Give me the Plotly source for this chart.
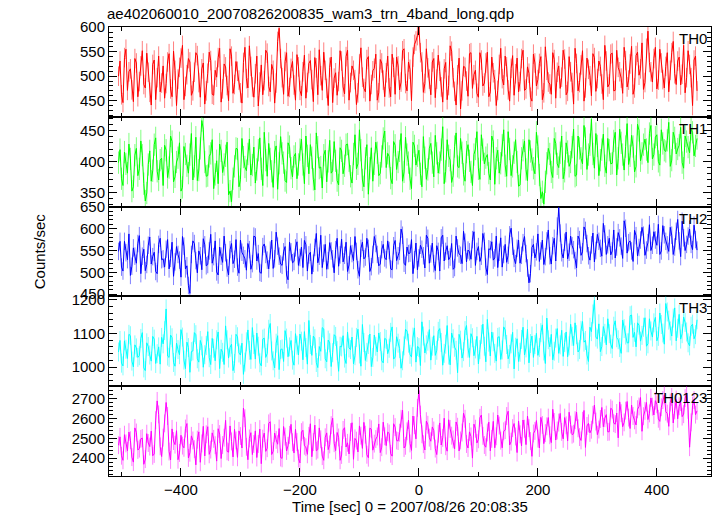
import plotly.graph_objects as go
from plotly.subplots import make_subplots

# ---- data: 2.5 s bins read/ ----
# "_a" lists hold bins starting at -505 s (5 s apart), "_b" lists the bins 2.5 s later.
time_start = -505
bin_width = 2.5

th0_a = [500, 462, 538, 471, 515, 448, 527, 489, 552, 476, 508, 441, 533, 497, 468,
         521, 485, 546, 458, 512, 494, 537, 452, 503, 529, 470, 548, 487, 515, 443,
         506, 532, 461, 498, 557, 474, 519, 450, 541, 483, 510, 466, 528, 495, 562,
         478, 505, 439, 523, 491, 547, 468, 512, 486, 598, 497, 530, 459, 516, 482,
         544, 471, 509, 455, 526, 493, 538, 462, 501, 549, 475, 518, 446, 507, 489,
         531, 464, 553, 487, 512, 442, 525, 498, 468, 540, 483, 516, 451, 534, 492,
         507, 476, 545, 463, 521, 488, 556, 470, 514, 539, 572, 601, 529, 485, 517,
         462, 536, 494, 510, 447, 528, 481, 551, 469, 503, 433, 520, 490, 546, 475,
         512, 457, 533, 486, 549, 468, 507, 440, 524, 495, 541, 472, 516, 461, 537,
         489, 553, 474, 506, 449, 527, 493, 540, 466, 512, 484, 548, 455, 521, 498,
         535, 469, 509, 443, 526, 487, 552, 476, 514, 460, 538, 495, 520, 452, 531,
         484, 547, 471, 518, 496, 559, 478, 525, 463, 542, 502, 568, 487, 592, 509,
         536, 474, 555, 493, 520, 468, 548, 505, 531, 482, 563, 497, 524, 440, 541]
th0_b = [531, 446, 555, 509, 472, 536, 458, 521, 483, 547, 467, 524, 452, 541, 486,
         455, 529, 474, 551, 440, 518, 563, 479, 536, 461, 508, 542, 457, 527, 470,
         549, 463, 512, 538, 447, 525, 481, 556, 465, 530, 492, 445, 559, 476, 520,
         457, 541, 488, 462, 553, 479, 524, 445, 571, 536, 463, 548, 477, 530, 451,
         519, 460, 543, 487, 532, 448, 517, 554, 471, 512, 440, 539, 496, 461, 552,
         478, 540, 451, 521, 493, 466, 558, 475, 534, 449, 511, 545, 466, 527, 458,
         541, 458, 518, 539, 472, 552, 485, 529, 450, 565, 583, 548, 467, 556, 494,
         529, 456, 543, 478, 515, 452, 562, 497, 441, 537, 470, 518, 459, 548, 503,
         465, 548, 480, 527, 458, 539, 493, 471, 557, 482, 519, 449, 542, 505, 468,
         536, 471, 519, 457, 545, 480, 526, 452, 560, 488, 463, 534, 508, 475, 553,
         462, 540, 487, 557, 470, 523, 449, 537, 501, 546, 469, 531, 484, 563, 478,
         545, 470, 553, 509, 465, 532, 492, 561, 476, 549, 515, 473, 557, 528, 488,
         559, 492, 527, 476, 548, 512, 571, 483, 539, 504, 466, 552, 497, 533, 470]

th1_a = [398, 372, 415, 381, 404, 359, 421, 388, 410, 336, 395, 368, 427, 384, 402,
         361, 418, 390, 432, 375, 406, 352, 424, 393, 411, 370, 439, 386, 466, 399,
         377, 413, 356, 401, 428, 382, 409, 346, 335, 392, 420, 371, 407, 385, 436,
         394, 365, 418, 388, 447, 376, 404, 358, 425, 397, 413, 369, 430, 389, 408,
         372, 419, 395, 441, 380, 406, 354, 423, 391, 410, 367, 434, 385, 401, 362,
         417, 393, 428, 376, 412, 388, 451, 370, 405, 347, 422, 396, 414, 381, 437,
         390, 408, 364, 426, 399, 445, 383, 411, 372, 431, 394, 418, 359, 406, 387,
         429, 375, 413, 398, 456, 384, 409, 366, 424, 392, 437, 379, 415, 401, 361,
         420, 388, 443, 396, 411, 370, 432, 405, 381, 426, 393, 448, 377, 414, 399,
         362, 418, 387, 435, 403, 380, 424, 340, 331, 397, 412, 374, 429, 390, 441,
         384, 416, 399, 452, 378, 421, 396, 437, 411, 468, 389, 425, 402, 444, 381,
         418, 397, 447, 405, 430, 386, 461, 409, 424, 392, 450, 413, 436, 398, 458,
         411, 443, 394, 429, 416, 463, 402, 438, 420, 455, 389, 432, 414, 447, 425]
th1_b = [419, 361, 396, 428, 352, 410, 377, 433, 364, 349, 417, 385, 438, 370, 405,
         426, 374, 441, 367, 399, 430, 358, 412, 381, 445, 392, 369, 421, 452, 376,
         408, 435, 379, 364, 417, 395, 431, 352, 372, 421, 359, 437, 391, 412, 378,
         423, 387, 438, 361, 402, 429, 384, 415, 355, 440, 398, 366, 424, 375, 413,
         395, 436, 364, 409, 427, 371, 446, 389, 357, 418, 400, 381, 432, 369, 422,
         380, 427, 401, 365, 443, 396, 418, 359, 427, 389, 368, 431, 377, 408, 449,
         413, 373, 432, 387, 417, 368, 439, 398, 356, 425, 409, 380, 440, 371, 421,
         398, 442, 381, 419, 364, 435, 402, 377, 446, 390, 414, 368, 427, 383, 411,
         448, 371, 419, 406, 381, 441, 363, 418, 397, 451, 376, 420, 392, 435, 360,
         405, 433, 369, 416, 389, 447, 378, 351, 367, 421, 383, 437, 396, 414, 372,
         430, 392, 423, 376, 441, 405, 458, 387, 427, 412, 445, 377, 419, 393, 437,
         396, 433, 378, 452, 411, 424, 395, 442, 383, 460, 401, 427, 419, 445, 404,
         439, 400, 451, 418, 434, 392, 447, 412, 426, 398, 441, 423, 452, 409, 437]

th2_a = [548, 512, 571, 529, 493, 556, 521, 584, 537, 504, 562, 519, 546, 497, 578,
         531, 553, 508, 569, 524, 541, 489, 560, 515, 452, 572, 527, 549, 506, 563,
         518, 587, 536, 501, 558, 523, 545, 494, 566, 530, 512, 574, 539, 505, 552,
         520, 581, 543, 498, 565, 528, 551, 509, 592, 537, 516, 559, 483, 547, 525,
         570, 534, 511, 563, 540, 496, 557, 522, 585, 544, 507, 568, 531, 552, 514,
         576, 539, 502, 561, 527, 548, 491, 569, 535, 555, 513, 582, 541, 519, 564,
         529, 550, 506, 573, 538, 599, 521, 558, 544, 497, 567, 533, 553, 510, 578,
         542, 520, 561, 503, 585, 548, 529, 566, 511, 556, 539, 594, 524, 547, 575,
         516, 559, 537, 571, 495, 552, 528, 583, 546, 512, 564, 539, 601, 532, 555,
         521, 568, 543, 476, 557, 533, 588, 549, 518, 572, 538, 561, 526, 648, 545,
         569, 531, 583, 552, 510, 575, 547, 596, 538, 563, 524, 587, 555, 612, 541,
         578, 549, 533, 591, 560, 618, 544, 572, 525, 584, 557, 603, 539, 568, 550,
         593, 562, 541, 607, 571, 548, 585, 558, 621, 536, 579, 564, 599, 552, 575]
th2_b = [571, 503, 545, 588, 514, 537, 566, 497, 553, 518, 581, 536, 502, 564, 529,
         512, 575, 532, 491, 559, 528, 582, 508, 470, 541, 566, 499, 538, 577, 515,
         549, 521, 572, 494, 537, 583, 510, 552, 520, 575, 498, 546, 531, 566, 507,
         583, 526, 500, 559, 541, 508, 574, 531, 560, 519, 547, 494, 569, 522, 556,
         516, 558, 573, 503, 546, 521, 589, 537, 511, 564, 527, 549, 499, 578, 540,
         524, 569, 517, 543, 582, 506, 555, 531, 578, 502, 541, 566, 515, 552, 533,
         572, 508, 561, 527, 548, 585, 516, 543, 575, 529, 506, 562, 538, 585, 521,
         567, 504, 548, 579, 526, 561, 535, 507, 583, 542, 520, 569, 551, 530, 593,
         548, 525, 589, 512, 554, 570, 533, 511, 579, 541, 523, 586, 560, 520, 574,
         539, 582, 510, 497, 564, 547, 525, 574, 536, 597, 519, 578, 606, 590, 533,
         592, 546, 561, 527, 583, 539, 604, 566, 528, 590, 550, 571, 537, 588, 563,
         540, 597, 558, 579, 532, 601, 568, 549, 596, 538, 574, 585, 551, 609, 562,
         574, 610, 549, 586, 563, 603, 541, 594, 572, 617, 550, 583, 564, 608, 551]

th3_a = [1045, 1012, 1078, 1026, 1093, 1001, 1057, 1034, 1102, 990, 1061, 1018, 1083, 1040, 1009,
         1069, 1172, 1029, 1087, 1003, 1052, 1111, 1021, 1074, 985, 1048, 1096, 1015, 1063, 1037,
         1105, 1008, 1056, 1081, 996, 1044, 1122, 1027, 1068, 1011, 1090, 1036, 979, 1075, 1050,
         1117, 1024, 1062, 1004, 1086, 1041, 1129, 1019, 1071, 993, 1054, 1108, 1031, 1079, 1006,
         1065, 1098, 1022, 1058, 1138, 1035, 1084, 999, 1047, 1113, 1016, 1072, 1043, 1091, 988,
         1060, 1027, 1104, 1052, 1010, 1088, 1039, 1126, 1020, 1067, 1002, 1095, 1045, 1076, 1013,
         1082, 1056, 1119, 1030, 1071, 997, 1063, 1107, 1038, 1089, 1015, 1058, 1134, 1042, 1077,
         1021, 1093, 1050, 1114, 1006, 1068, 1036, 1101, 1059, 984, 1080, 1046, 1123, 1029, 1087,
         1054, 1010, 1097, 1062, 1141, 1033, 1075, 1018, 1090, 1051, 1110, 1025, 1069, 995, 1084,
         1044, 1118, 1057, 1013, 1092, 1067, 1035, 1102, 1048, 1145, 1060, 1022, 1086, 1041, 1109,
         1073, 1031, 1127, 1064, 1096, 1052, 1135, 1079, 1017, 1105, 1198, 1083, 1046, 1120, 1066,
         1099, 1055, 1137, 1081, 1041, 1114, 1072, 1152, 1088, 1060, 1124, 1094, 1146, 1069, 1107,
         1131, 1078, 1160, 1101, 1188, 1139, 1092, 1175, 1115, 1083, 1148, 1104, 1063, 1127, 1096]
th3_b = [1079, 1004, 1053, 1097, 1018, 1066, 1029, 1085, 998, 1072, 1036, 1091, 1011, 1060, 1088,
         1108, 1033, 1095, 1014, 1071, 1037, 1089, 996, 1058, 1046, 1102, 1025, 1079, 1000, 1064,
         1028, 1085, 1019, 1104, 1053, 1008, 1081, 1059, 990, 1097, 1042, 1071, 1015, 1110, 1023,
         1067, 1101, 1013, 1083, 1029, 1112, 1048, 998, 1093, 1052, 1017, 1086, 1060, 1021, 1099,
         1036, 1077, 1105, 1009, 1067, 1092, 1014, 1061, 1117, 1025, 1080, 1002, 1096, 1049, 1062,
         1093, 1011, 1057, 1089, 1034, 1112, 1003, 1073, 1044, 1098, 1029, 1062, 1101, 1019, 1085,
         1040, 1103, 1024, 1090, 1055, 1019, 1112, 1071, 1030, 1116, 1061, 1005, 1092, 1066, 1111,
         1062, 1035, 1106, 1073, 1041, 1123, 1007, 1084, 1050, 1097, 1027, 1108, 1056, 1099, 1034,
         1091, 1052, 1127, 1016, 1074, 1104, 1041, 1088, 1023, 1119, 1067, 1038, 1103, 1059, 1017,
         1082, 1036, 1112, 1070, 1029, 1100, 1058, 1125, 1011, 1081, 1097, 1047, 1114, 1066, 1032,
         1104, 1063, 1091, 1131, 1045, 1109, 1074, 1036, 1118, 1157, 1089, 1128, 1061, 1100, 1143,
         1068, 1121, 1087, 1058, 1139, 1095, 1072, 1154, 1103, 1131, 1077, 1118, 1062, 1143, 1089,
         1147, 1091, 1126, 1068, 1163, 1107, 1145, 1078, 1156, 1099, 1132, 1072, 1121, 1084, 1140]

th0123_a = [2465, 2412, 2518, 2437, 2490, 2380, 2529, 2448, 2501, 2395, 2476, 2536, 2421, 2688, 2459,
            2503, 2680, 2433, 2547, 2468, 2392, 2515, 2452, 2574, 2427, 2489, 2366, 2532, 2474, 2411,
            2558, 2443, 2497, 2385, 2521, 2466, 2590, 2430, 2484, 2545, 2404, 2511, 2652, 2457, 2499,
            2418, 2537, 2471, 2372, 2526, 2450, 2583, 2435, 2492, 2549, 2399, 2508, 2462, 2570, 2426,
            2481, 2376, 2540, 2455, 2512, 2407, 2566, 2443, 2495, 2389, 2527, 2469, 2601, 2438, 2504,
            2416, 2553, 2477, 2531, 2394, 2488, 2562, 2449, 2518, 2402, 2545, 2473, 2509, 2428, 2581,
            2463, 2524, 2410, 2556, 2486, 2598, 2451, 2535, 2474, 2612, 2497, 2741, 2520, 2441, 2568,
            2485, 2539, 2418, 2577, 2502, 2460, 2593, 2513, 2447, 2558, 2489, 2626, 2471, 2532, 2400,
            2548, 2495, 2617, 2466, 2529, 2437, 2585, 2510, 2564, 2452, 2541, 2636, 2483, 2574, 2428,
            2520, 2592, 2468, 2551, 2409, 2537, 2498, 2605, 2473, 2560, 2515, 2646, 2491, 2579, 2532,
            2604, 2487, 2569, 2523, 2632, 2506, 2588, 2454, 2575, 2543, 2667, 2518, 2597, 2558, 2619,
            2533, 2644, 2571, 2502, 2626, 2580, 2685, 2549, 2612, 2567, 2660, 2535, 2638, 2594, 2703,
            2617, 2671, 2585, 2692, 2634, 2560, 2708, 2641, 2598, 2682, 2621, 2728, 2455, 2664, 2619]
th0123_b = [2507, 2389, 2474, 2531, 2405, 2552, 2441, 2497, 2369, 2523, 2458, 2412, 2591, 2620, 2408,
            2575, 2612, 2391, 2486, 2538, 2426, 2463, 2549, 2401, 2512, 2445, 2493, 2379, 2560, 2520,
            2419, 2527, 2465, 2548, 2398, 2503, 2434, 2562, 2406, 2489, 2537, 2451, 2601, 2392, 2528,
            2471, 2403, 2546, 2498, 2434, 2575, 2418, 2526, 2470, 2403, 2559, 2436, 2517, 2480, 2545,
            2398, 2531, 2462, 2419, 2573, 2481, 2437, 2552, 2410, 2505, 2443, 2566, 2475, 2529, 2389,
            2542, 2456, 2421, 2578, 2499, 2431, 2513, 2580, 2417, 2551, 2440, 2496, 2572, 2455, 2510,
            2531, 2422, 2573, 2489, 2528, 2641, 2462, 2591, 2439, 2566, 2653, 2619, 2470, 2586, 2503,
            2557, 2448, 2523, 2466, 2601, 2435, 2547, 2494, 2582, 2436, 2529, 2598, 2451, 2509, 2571,
            2476, 2603, 2512, 2455, 2581, 2497, 2452, 2617, 2488, 2535, 2612, 2466, 2551, 2509, 2587,
            2461, 2548, 2612, 2486, 2524, 2589, 2451, 2567, 2526, 2604, 2478, 2582, 2539, 2625, 2497,
            2565, 2631, 2518, 2591, 2550, 2489, 2640, 2562, 2527, 2618, 2584, 2544, 2655, 2601, 2532,
            2651, 2576, 2627, 2683, 2558, 2639, 2604, 2667, 2590, 2646, 2705, 2611, 2680, 2625, 2659,
            2689, 2598, 2656, 2717, 2624, 2680, 2577, 2695, 2661, 2609, 2702, 2643, 2580, 2692, 2638]

band_names = ["TH0", "TH1", "TH2", "TH3", "TH0123"]
band_a = [th0_a, th1_a, th2_a, th3_a, th0123_a]
band_b = [th0_b, th1_b, th2_b, th3_b, th0123_b]
band_errors = [20, 18, 20, 28, 45]

title_text = "ae402060010_20070826200835_wam3_trn_4band_long.qdp"
x_title = "Time [sec] 0 = 2007/08/26 20:08:35"
y_title = "Counts/sec"

# ---- styles ----
colors = ["#ff0000", "#00ff00", "#0000ff", "#00ffff", "#ff00ff"]
err_colors = ["rgba(255,0,0,0.5)", "rgba(0,255,0,0.5)", "rgba(0,0,255,0.5)",
              "rgba(0,255,255,0.5)", "rgba(255,0,255,0.5)"]
y_ranges = [[417, 600.5], [327, 472], [445, 650.5], [944, 1209], [2310, 2762]]
y_dticks = [50, 50, 50, 100, 100]
y_minor = [10, 10, 10, 20, 20]

fig = make_subplots(rows=5, cols=1, shared_xaxes=True, vertical_spacing=0)
FONT = "Liberation Sans, Arial, Helvetica, sans-serif"

for k in range(5):
    vals = [v for pair in zip(band_a[k], band_b[k]) for v in pair]
    times = [time_start + i * bin_width for i in range(len(vals))]
    fig.add_trace(go.Scatter(
        x=times, y=vals, mode="lines",
        line=dict(color=colors[k], width=1),
        error_y=dict(type="constant", value=band_errors[k], thickness=1,
                     width=0, color=err_colors[k]),
        showlegend=False, hoverinfo="skip"), row=k + 1, col=1)
    fig.update_yaxes(row=k + 1, col=1, range=y_ranges[k], dtick=y_dticks[k], tick0=0,
                     ticks="inside", ticklen=8, tickcolor="black", mirror="ticks",
                     showline=True, linecolor="black", linewidth=1, showgrid=False,
                     zeroline=False,
                     minor=dict(dtick=y_minor[k], ticks="inside", ticklen=4, tickcolor="black"),
                     tickfont=dict(family=FONT, size=15, color="black"))
    fig.update_xaxes(row=k + 1, col=1, range=[-521, 491], dtick=200, tick0=0,
                     ticks="inside", ticklen=8, tickcolor="black", mirror="ticks",
                     showline=True, linecolor="black", linewidth=1, showgrid=False,
                     zeroline=False,
                     minor=dict(dtick=100, ticks="inside", ticklen=4, tickcolor="black"),
                     tickfont=dict(family=FONT, size=15, color="black"),
                     showticklabels=(k == 4))
    fig.add_annotation(text=band_names[k], xref="x domain",
                       yref=f"y{'' if k == 0 else k + 1} domain",
                       x=0.996, y=1, xanchor="right", yanchor="top", yshift=-1,
                       showarrow=False, font=dict(family=FONT, size=15, color="black"))

fig.update_xaxes(row=5, col=1, title=dict(text=x_title, standoff=2,
                 font=dict(family=FONT, size=15, color="black")))

fig.add_annotation(text=y_title, xref="paper", yref="paper", x=-0.115, y=0.5,
                   xanchor="center", yanchor="middle", textangle=-90, showarrow=False,
                   font=dict(family=FONT, size=15, color="black"))

fig.update_layout(
    width=717, height=516,
    margin=dict(l=109, r=6, t=27, b=40),
    paper_bgcolor="white", plot_bgcolor="white",
    title=dict(text=title_text, x=107 / 717, xanchor="left", y=1 - 14 / 516, yanchor="middle",
               font=dict(family=FONT, size=15, color="black")),
)

fig.write_html("out.html", config={"displayModeBar": False},
               post_script="document.body.style.margin='0';")
